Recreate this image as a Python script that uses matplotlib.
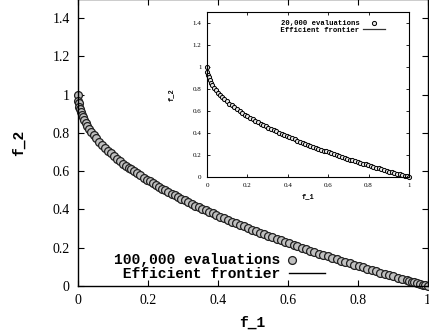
import matplotlib
matplotlib.use("Agg")
import matplotlib.pyplot as plt
from matplotlib.legend_handler import HandlerPathCollection

# 100,000 evaluations (main panel)
main_f1 = [0.000, 0.001, 0.002, 0.004, 0.006, 0.008, 0.011, 0.014, 0.018, 0.022,
           0.027, 0.032, 0.038, 0.045, 0.052, 0.060, 0.068, 0.077, 0.085, 0.094,
           0.103, 0.112, 0.121, 0.130, 0.138, 0.146, 0.152, 0.160, 0.170, 0.178,
           0.188, 0.197, 0.205, 0.214, 0.222, 0.232, 0.241, 0.250, 0.258, 0.268,
           0.278, 0.287, 0.296, 0.305, 0.314, 0.325, 0.336, 0.345, 0.356, 0.366,
           0.376, 0.386, 0.396, 0.406, 0.418, 0.428, 0.440, 0.452, 0.463, 0.474,
           0.486, 0.497, 0.510, 0.520, 0.533, 0.545, 0.556, 0.568, 0.580, 0.592,
           0.604, 0.617, 0.628, 0.640, 0.652, 0.664, 0.676, 0.690, 0.702, 0.714,
           0.727, 0.740, 0.752, 0.764, 0.777, 0.790, 0.803, 0.815, 0.828, 0.840,
           0.852, 0.865, 0.877, 0.890, 0.902, 0.915, 0.927, 0.940, 0.948, 0.955,
           0.962, 0.970, 0.978, 0.986, 0.993, 1.000]
main_f2 = [1.000, 0.968, 0.955, 0.937, 0.923, 0.911, 0.895, 0.882, 0.866, 0.852,
           0.836, 0.821, 0.805, 0.788, 0.772, 0.755, 0.739, 0.723, 0.708, 0.693,
           0.679, 0.665, 0.652, 0.639, 0.629, 0.618, 0.610, 0.600, 0.588, 0.578,
           0.566, 0.556, 0.547, 0.537, 0.529, 0.518, 0.509, 0.500, 0.492, 0.482,
           0.473, 0.464, 0.456, 0.448, 0.440, 0.430, 0.420, 0.413, 0.403, 0.395,
           0.387, 0.379, 0.371, 0.363, 0.353, 0.346, 0.337, 0.328, 0.320, 0.312,
           0.303, 0.295, 0.286, 0.279, 0.270, 0.262, 0.254, 0.246, 0.238, 0.231,
           0.223, 0.214, 0.208, 0.200, 0.193, 0.185, 0.178, 0.169, 0.162, 0.155,
           0.147, 0.140, 0.133, 0.126, 0.119, 0.111, 0.104, 0.097, 0.090, 0.083,
           0.077, 0.070, 0.064, 0.057, 0.050, 0.043, 0.037, 0.030, 0.026, 0.023,
           0.019, 0.015, 0.011, 0.007, 0.004, 0.000]

# 20,000 evaluations (inset)
inset_f1 = [0.000, 0.002, 0.005, 0.009, 0.014, 0.020, 0.027, 0.035, 0.044, 0.054,
            0.064, 0.075, 0.086, 0.098, 0.110, 0.122, 0.135, 0.148, 0.161, 0.174,
            0.187, 0.200, 0.213, 0.226, 0.239, 0.252, 0.265, 0.278, 0.291, 0.304,
            0.317, 0.330, 0.343, 0.356, 0.369, 0.382, 0.395, 0.408, 0.421, 0.434,
            0.447, 0.460, 0.473, 0.486, 0.499, 0.512, 0.525, 0.538, 0.551, 0.564,
            0.577, 0.590, 0.603, 0.616, 0.629, 0.642, 0.655, 0.668, 0.681, 0.694,
            0.707, 0.720, 0.733, 0.746, 0.759, 0.772, 0.785, 0.798, 0.811, 0.824,
            0.837, 0.850, 0.863, 0.876, 0.889, 0.902, 0.915, 0.928, 0.941, 0.954,
            0.967, 0.980, 0.990, 1.000]
inset_f2 = [1.000, 0.955, 0.929, 0.905, 0.882, 0.859, 0.836, 0.813, 0.790, 0.768,
            0.747, 0.726, 0.707, 0.687, 0.668, 0.651, 0.633, 0.615, 0.599, 0.583,
            0.568, 0.553, 0.538, 0.525, 0.511, 0.498, 0.485, 0.473, 0.461, 0.449,
            0.437, 0.426, 0.414, 0.403, 0.393, 0.382, 0.372, 0.361, 0.351, 0.341,
            0.331, 0.322, 0.312, 0.303, 0.294, 0.284, 0.275, 0.267, 0.258, 0.249,
            0.240, 0.232, 0.223, 0.215, 0.207, 0.199, 0.191, 0.183, 0.175, 0.167,
            0.159, 0.151, 0.144, 0.136, 0.129, 0.121, 0.114, 0.107, 0.099, 0.092,
            0.085, 0.078, 0.071, 0.064, 0.057, 0.050, 0.043, 0.037, 0.030, 0.023,
            0.017, 0.010, 0.005, 0.000]

# Efficient frontier
front_f1 = [0.0, 0.001, 0.004, 0.01, 0.02, 0.05, 0.1, 0.15, 0.2, 0.3, 0.4, 0.5,
            0.6, 0.7, 0.8, 0.9, 1.0]
front_f2 = [1.0, 0.968, 0.937, 0.900, 0.859, 0.776, 0.684, 0.613, 0.553, 0.452,
            0.368, 0.293, 0.225, 0.163, 0.106, 0.051, 0.0]

ticks_x = [0, 0.2, 0.4, 0.6, 0.8, 1]
ticks_y = [0, 0.2, 0.4, 0.6, 0.8, 1, 1.2, 1.4]
tick_labels_x = ["0", "0.2", "0.4", "0.6", "0.8", "1"]
tick_labels_y = ["0", "0.2", "0.4", "0.6", "0.8", "1", "1.2", "1.4"]

serif = "Liberation Serif"
mono = "Liberation Mono"


class LeftPointHandler(HandlerPathCollection):
    """Place the legend marker near the left end of the sample slot."""
    def __init__(self, frac=0.1, **kw):
        super().__init__(**kw)
        self._frac = frac

    def get_xdata(self, legend, xdescent, ydescent, width, height, fontsize):
        x = -xdescent + self._frac * width
        return [x], [x]


fig = plt.figure(figsize=(4.29, 3.36), dpi=100)

# main axes
ax = fig.add_axes([78 / 429, 50 / 336, 349.5 / 429, 287 / 336])
ax.plot(front_f1, front_f2, color="black", lw=1.0, zorder=1,
        label=" Efficient frontier")
sc = ax.scatter(main_f1, main_f2, s=32, facecolor="#c0c0c0", edgecolor="#202020",
                linewidths=0.9, zorder=2, clip_on=False,
                label="100,000 evaluations")
ax.set_xlim(0, 1)
ax.set_ylim(0, 1.5)
ax.set_xticks(ticks_x)
ax.set_xticklabels(tick_labels_x, fontfamily=serif, fontsize=10)
ax.set_yticks(ticks_y)
ax.set_yticklabels(tick_labels_y, fontfamily=serif, fontsize=10)
ax.tick_params(direction="in", length=4, width=0.8, top=True, right=True,
               pad=6)
for s in ax.spines.values():
    s.set_linewidth(1.0)
ax.set_xlabel("f_1", fontfamily=mono, fontweight="bold", fontsize=10.5,
              labelpad=6)
ax.set_ylabel("f_2", fontfamily=mono, fontweight="bold", fontsize=10.5,
              labelpad=19)
h, l = ax.get_legend_handles_labels()
ax.legend(h[::-1], l[::-1], loc="lower left",
          bbox_to_anchor=(0.075, -0.018), frameon=False, markerfirst=False,
          prop={"family": mono, "weight": "bold", "size": 10.5},
          handlelength=2.5, handletextpad=0.55, labelspacing=0.0,
          borderpad=0.2, scatterpoints=1,
          handler_map={sc: LeftPointHandler(frac=0.1)})

# inset axes
ax2 = fig.add_axes([207 / 429, 159 / 336, 202 / 429, 165 / 336])
ax2.plot(front_f1, front_f2, color="#333333", lw=0.9, zorder=1,
         label=" Efficient frontier")
sc2 = ax2.scatter(inset_f1, inset_f2, s=9, facecolor="#e6e6e6", edgecolor="black",
                  linewidths=0.7, zorder=2, clip_on=False,
                  label="20,000 evaluations")
ax2.set_xlim(0, 1)
ax2.set_ylim(0, 1.5)
ax2.set_xticks(ticks_x)
ax2.set_xticklabels(tick_labels_x, fontfamily=serif, fontsize=5)
ax2.set_yticks(ticks_y)
ax2.set_yticklabels(tick_labels_y, fontfamily=serif, fontsize=5)
ax2.tick_params(direction="in", length=2.5, width=0.6, top=True, right=True,
                pad=4)
for s in ax2.spines.values():
    s.set_linewidth(0.8)
ax2.set_xlabel("f_1", fontfamily=mono, fontweight="bold", fontsize=5,
               labelpad=4)
ax2.set_ylabel("f_2", fontfamily=mono, fontweight="bold", fontsize=5,
               labelpad=13)
h2, l2 = ax2.get_legend_handles_labels()
ax2.legend(h2[::-1], l2[::-1], loc="upper right",
           bbox_to_anchor=(0.905, 0.985), frameon=False, markerfirst=False,
           prop={"family": mono, "weight": "bold", "size": 5.2},
           handlelength=3.0, handletextpad=0.5, labelspacing=0.05,
           borderpad=0.2, scatterpoints=1)

fig.savefig("out.png", dpi=100)
